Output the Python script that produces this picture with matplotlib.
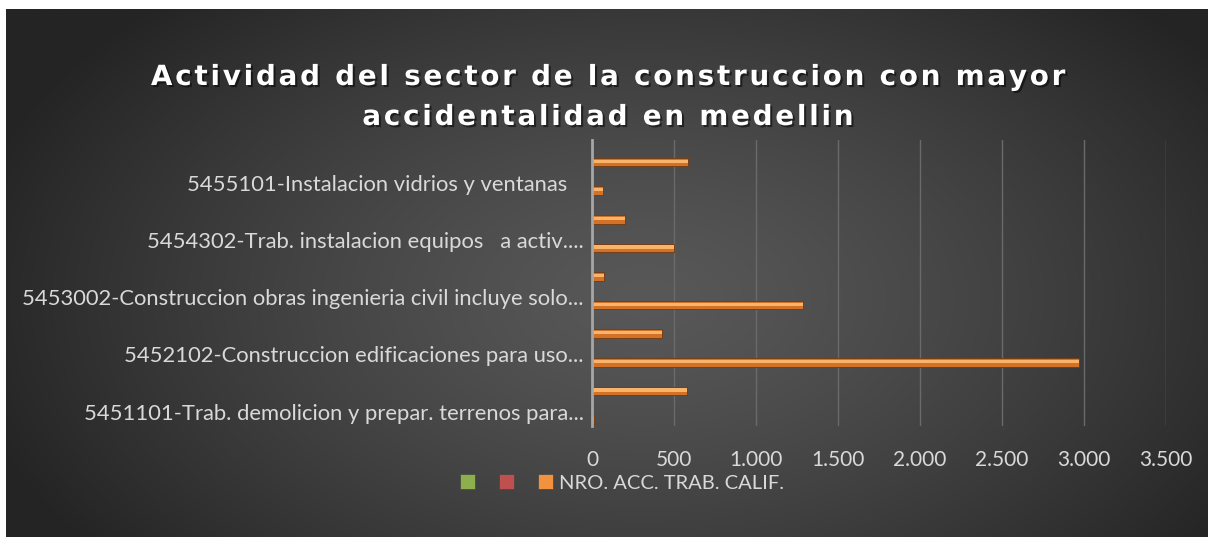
import numpy as np
import matplotlib
matplotlib.use("Agg")
from matplotlib import pyplot as plt
from matplotlib.patches import Patch
from matplotlib.ticker import FuncFormatter
import matplotlib.patheffects as pe

# categories bottom -> top; Excel only printed every other label
categories = [
    "5451101-Trab. demolicion y prepar. terrenos para...",
    "",
    "5452102-Construccion edificaciones para uso...",
    "",
    "5453002-Construccion obras ingenieria civil incluye solo...",
    "",
    "5454302-Trab. instalacion equipos   a activ....",
    "",
    "5455101-Instalacion vidrios y ventanas   ",
    "",
]
acc_calif = [10, 581, 2967, 429, 1287, 71, 502, 203, 67, 583]
series_names = ["", "", "NRO. ACC. TRAB. CALIF."]
series_colors = ["#8db04c", "#c0504d", "#f0923e"]
x_ticks = [0, 500, 1000, 1500, 2000, 2500, 3000, 3500]

title_lines = ["Actividad del sector de la construccion con mayor",
               "accidentalidad en medellin"]


def spaced(s):
    # wide letter spacing like the original title font
    return "\u200a".join(s)


W, H = 1216, 544
fig = plt.figure(figsize=(W / 100, H / 100), dpi=100, facecolor="white")

# gradient background (dark radial fill of the chart area)
bg = fig.add_axes([6 / W, 1 - 537 / H, 1202 / W, 528 / H])
bg.set_axis_off()
gx, gy = np.meshgrid(np.linspace(0, 1202, 400), np.linspace(0, 528, 200))
r = np.sqrt(((gx - 640) / 700) ** 2 + ((gy - 290) / 420) ** 2)
r = np.clip(r, 0, 1)
c_in, c_out = 0x58, 0x24
val = (c_in + (c_out - c_in) * r ** 1.3) / 255.0
bg.imshow(np.dstack([val, val, val]), aspect="auto", extent=[0, 1, 0, 1])

shadow = [pe.withSimplePatchShadow(offset=(1.5, -1.5), shadow_rgbFace="black", alpha=0.5)]
for line, ypix in zip(title_lines, [77, 117]):
    fig.text(608 / W, 1 - ypix / H, spaced(line), ha="center", va="center", color="white",
             fontsize=20, fontweight="bold", family="DejaVu Sans", path_effects=shadow)

ax = fig.add_axes([592 / W, 1 - 426 / H, (1166 - 592) / W, (426 - 140) / H])
ax.patch.set_alpha(0)

y = np.arange(len(categories))
yb = y - 0.27
ax.barh(yb, acc_calif, height=0.3, color="#d27228", edgecolor="#6e3a12", linewidth=0.6, zorder=3)
ax.barh(yb + 0.03, acc_calif, height=0.11, color="#fbb36a", linewidth=0, zorder=4)

ax.set_xlim(0, 3500)
ax.set_ylim(-0.5, len(categories) - 0.5)
ax.set_xticks(x_ticks)
ax.xaxis.set_major_formatter(FuncFormatter(lambda v, p: f"{int(v):,}".replace(",", ".")))
ax.set_yticks(y)
ax.set_yticklabels(categories)
ax.grid(axis="x", color="#6a6a6a", linewidth=1, zorder=0)
for s in ["top", "right", "bottom"]:
    ax.spines[s].set_visible(False)
ax.spines["left"].set_color("#a6a6a6")
ax.spines["left"].set_linewidth(2)
ax.spines["left"].set_zorder(5)
ax.tick_params(axis="both", length=0, colors="#d9d9d9")
ax.tick_params(axis="x", pad=17, labelsize=15)
ax.tick_params(axis="y", pad=6, labelsize=15.8)
for lab in ax.get_xticklabels() + ax.get_yticklabels():
    lab.set_family("Lato")

handles = [Patch(facecolor=c, edgecolor="#444444", linewidth=0.5) for c in series_colors]
leg = fig.legend(handles, series_names, loc="center", bbox_to_anchor=(622 / W, 1 - 483 / H),
                 ncol=3, frameon=False, handlelength=0.75, handleheight=0.75,
                 handletextpad=0.3, columnspacing=0.9,
                 prop={"family": "Lato", "size": 14.5})
for t in leg.get_texts():
    t.set_color("#d9d9d9")

fig.savefig("out.png", dpi=100, facecolor="white")
